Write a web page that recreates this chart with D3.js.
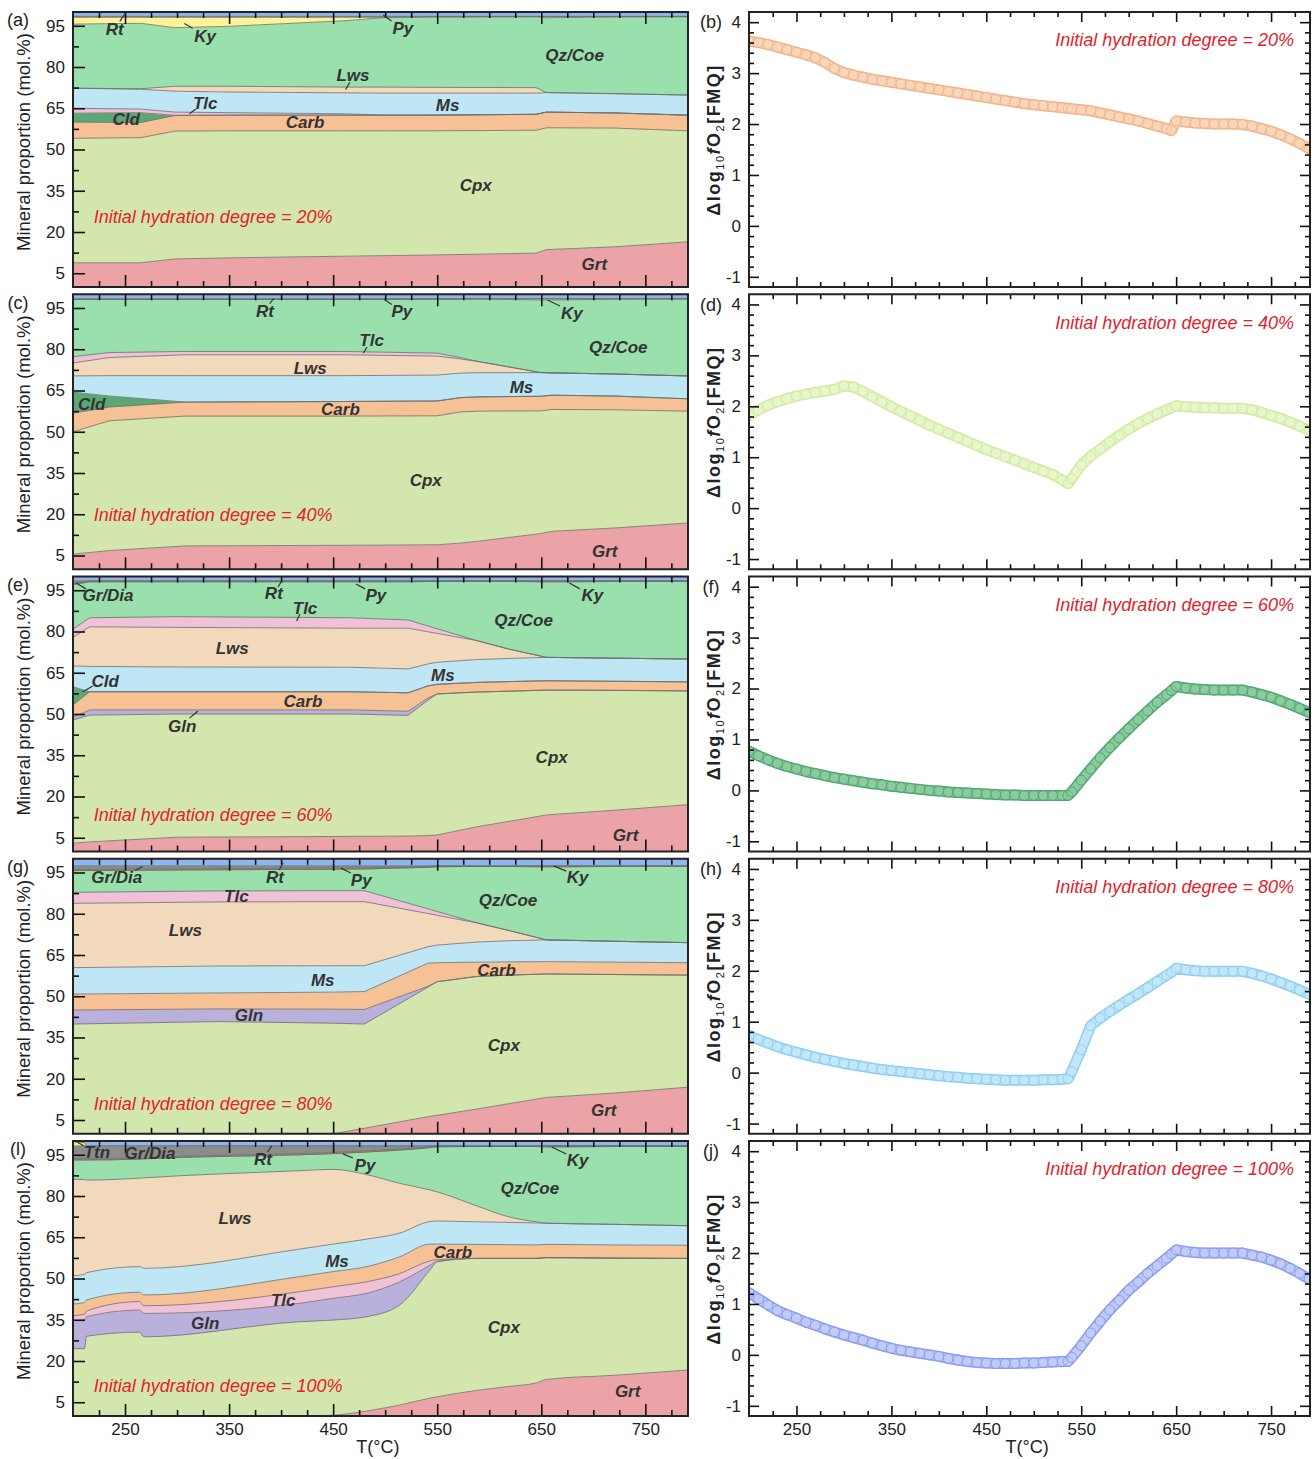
<!DOCTYPE html>
<html>
<head>
<meta charset="utf-8">
<script src="https://cdn.jsdelivr.net/npm/d3@7"></script>
<style>
  body { margin: 0; background: #fff; }
  svg { display: block; }
</style>
</head>
<body>
<svg id="fig" width="1315" height="1459"></svg>
<script>
// ---------- Mineral proportions (mol.%) along the heating path ----------
// Initial hydration degree = 20 %
const T_20    = [200, 265, 298, 350, 460, 500, 540, 645, 655, 720, 790];
const Grt_20  = [8.8, 8.8, 10.2, 10.6, 11.2, 11.4, 11.6, 12.3, 13.6, 14.6, 16.4];
const Cpx_20  = [45.3, 45.5, 46.5, 46.2, 45.6, 45.4, 45.2, 44.7, 44.3, 43.2, 40.4];
const Carb_20 = [5.9, 5.5, 5.7, 5.7, 5.7, 5.7, 5.7, 5.8, 5.7, 5.5, 5.7];
const Cld_20  = [3.2, 3.6, 0, 0, 0, 0, 0, 0, 0, 0, 0];
const Tlc_20  = [1.8, 1.3, 1.2, 0.9, 0.5, 0, 0, 0, 0, 0, 0];
const Ms_20   = [7.3, 7.2, 7.6, 7.5, 7.6, 8.0, 8.0, 7.7, 7.1, 7.0, 7.3];
const Lws_20  = [0, 0.2, 1.8, 2.1, 2.1, 2.2, 2.1, 2.0, 0, 0, 0];
const Qz_20   = [23.3, 23.8, 21.3, 21.8, 24.1, 25.3, 25.6, 25.8, 27.2, 27.9, 28.5];
const Ky_20   = [2.5, 2.2, 3.8, 3.3, 1.3, 0.1, 0, 0, 0.4, 0.1, 0];
const Py_20   = [0.3, 0.3, 0.3, 0.3, 0.3, 0.3, 0.2, 0.1, 0.1, 0.1, 0.1];
const Rt_20   = [1.6, 1.6, 1.6, 1.6, 1.6, 1.6, 1.6, 1.6, 1.6, 1.6, 1.6];

// Initial hydration degree = 40 %
const T_40    = [200, 235, 308, 460, 550, 572, 590, 650, 660, 720, 790];
const Grt_40  = [5.5, 6.8, 8.5, 8.7, 8.9, 9.5, 10.2, 13.0, 13.8, 15.0, 16.8];
const Cpx_40  = [44.5, 47.2, 47.2, 47.0, 46.9, 47.7, 47.3, 44.6, 44.3, 43.0, 40.7];
const Carb_40 = [6.8, 5.0, 5.1, 5.3, 5.4, 5.2, 5.2, 5.3, 5.2, 5.0, 4.5];
const Cld_40  = [7.6, 4.0, 0, 0, 0, 0, 0, 0, 0, 0, 0];
const Ms_40   = [5.9, 7.4, 9.6, 9.4, 9.4, 8.9, 8.8, 8.6, 8.1, 8.0, 8.3];
const Lws_40  = [4.7, 6.6, 7.6, 7.6, 6.9, 5.2, 4.0, 0, 0, 0, 0];
const Tlc_40  = [2.3, 1.8, 1.2, 1.2, 1.1, 0.5, 0, 0, 0, 0, 0];
const Qz_40   = [20.8, 19.3, 18.9, 18.9, 19.6, 21.2, 22.8, 26.4, 26.5, 27.2, 28.0];
const Ky_40   = [0, 0, 0, 0, 0, 0, 0, 0.4, 0.4, 0.1, 0];
const Py_40   = [0.3, 0.3, 0.3, 0.3, 0.2, 0.2, 0.1, 0.1, 0.1, 0.1, 0.1];
const Rt_40   = [1.6, 1.6, 1.6, 1.6, 1.6, 1.6, 1.6, 1.6, 1.6, 1.6, 1.6];

// Initial hydration degree = 60 %
const T_60     = [200, 216, 300, 466, 522, 541, 550, 588, 620, 655, 720, 790];
const Grt_60   = [3.0, 3.5, 5.2, 5.5, 5.6, 5.8, 6.0, 9.0, 11.0, 13.3, 15.0, 17.0];
const Cpx_60   = [44.8, 46.1, 44.8, 44.5, 43.9, 49.2, 51.3, 49.0, 47.3, 45.4, 43.6, 41.4];
const Gln_60   = [1.0, 1.9, 1.5, 1.5, 1.5, 0.8, 0, 0, 0, 0, 0, 0];
const Carb_60  = [4.5, 6.6, 6.6, 6.6, 6.7, 4.4, 3.5, 3.5, 3.5, 3.4, 3.3, 3.3];
const Cld_60   = [6.6, 0, 0, 0, 0, 0, 0, 0, 0, 0, 0, 0];
const Ms_60    = [7.6, 9.2, 9.0, 8.9, 8.7, 8.0, 8.0, 8.3, 8.4, 8.5, 8.4, 8.3];
const Lws_60   = [10.4, 14.4, 14.4, 14.2, 14.8, 11.7, 10.5, 6.9, 3.3, 0, 0, 0];
const Tlc_60   = [3.0, 3.3, 3.9, 3.8, 3.0, 2.1, 1.7, 0, 0, 0, 0, 0];
const Qz_60    = [16.2, 13.1, 12.7, 13.1, 13.9, 16.2, 17.2, 21.6, 24.8, 27.3, 27.9, 28.3];
const Ky_60    = [0, 0, 0, 0, 0, 0, 0, 0, 0, 0.4, 0.1, 0];
const Py_60    = [0.3, 0.3, 0.3, 0.3, 0.3, 0.2, 0.2, 0.1, 0.1, 0.1, 0.1, 0.1];
const GrDia_60 = [1.0, 0, 0, 0, 0, 0, 0, 0, 0, 0, 0, 0];
const Rt_60    = [1.6, 1.6, 1.6, 1.6, 1.6, 1.6, 1.6, 1.6, 1.6, 1.6, 1.6, 1.6];

// Initial hydration degree = 80 %
const T_80     = [200, 340, 450, 480, 541, 550, 588, 620, 655, 720, 790];
const Grt_80   = [0, 0, 0, 2.0, 6.2, 6.7, 9.0, 11.0, 13.2, 14.8, 16.9];
const Cpx_80   = [39.9, 40.8, 40.2, 37.9, 47.1, 48.6, 48.2, 46.7, 44.9, 43.1, 40.8];
const Gln_80   = [5.1, 4.6, 5.1, 5.3, 0.3, 0, 0, 0, 0, 0, 0];
const Carb_80  = [5.8, 5.8, 6.2, 6.5, 8.4, 6.9, 5.2, 4.8, 4.5, 4.5, 4.5];
const Ms_80    = [9.6, 9.8, 9.6, 9.4, 6.0, 6.4, 7.3, 7.7, 7.9, 7.6, 7.3];
const Lws_80   = [23.4, 23.3, 23.3, 23.3, 12.1, 10.8, 7.0, 3.6, 0, 0, 0];
const Tlc_80   = [4.0, 4.0, 4.0, 4.0, 1.7, 1.4, 0, 0, 0, 0, 0];
const Qz_80    = [7.9, 7.7, 7.8, 7.9, 15.1, 16.3, 20.5, 23.4, 26.4, 27.2, 27.8];
const Ky_80    = [0, 0, 0, 0, 0, 0, 0, 0, 0.4, 0.1, 0];
const Py_80    = [0.4, 0.4, 0.4, 0.4, 0.3, 0.3, 0.2, 0.2, 0.1, 0.1, 0.1];
const GrDia_80 = [1.3, 1.0, 0.8, 0.7, 0.2, 0, 0, 0, 0, 0, 0];
const Rt_80    = [2.6, 2.6, 2.6, 2.6, 2.6, 2.6, 2.6, 2.6, 2.6, 2.6, 2.6];

// Initial hydration degree = 100 %
const T_100     = [200, 211, 213, 264, 268, 418, 450, 482, 514, 543, 550, 588, 620, 645, 655, 720, 790];
const Grt_100   = [0, 0, 0, 0, 0, 0, 0.3, 1.8, 4.0, 6.5, 7.0, 9.3, 10.8, 12.0, 13.3, 14.8, 16.7];
const Cpx_100   = [24.5, 24.5, 29.0, 30.5, 28.8, 34.3, 34.6, 34.3, 36.4, 46.6, 49.1, 48.0, 46.5, 45.3, 44.3, 42.6, 40.6];
const Gln_100   = [10.2, 10.5, 7.1, 8.0, 8.5, 6.7, 7.9, 8.5, 8.4, 1.7, 0.2, 0, 0, 0, 0, 0, 0];
const Tlc_100   = [1.8, 2.0, 2.1, 3.1, 2.8, 4.2, 4.2, 4.2, 3.0, 1.6, 0.6, 0, 0, 0, 0, 0, 0];
const Carb_100  = [4.2, 4.3, 4.0, 3.4, 3.9, 5.5, 5.5, 5.5, 6.1, 6.1, 5.6, 5.1, 5.0, 4.9, 4.8, 4.8, 4.8];
const Ms_100    = [10.3, 10.2, 9.9, 9.3, 9.7, 10.0, 10.0, 10.0, 8.6, 8.2, 8.4, 8.2, 8.1, 8.0, 7.7, 7.5, 7.1];
const Lws_100   = [35.1, 34.5, 33.7, 32.2, 32.9, 28.5, 27.2, 23.5, 18.1, 11.5, 10.6, 5.8, 1.9, 0.4, 0, 0, 0];
const Qz_100    = [7.0, 7.1, 7.3, 6.9, 6.9, 5.8, 5.7, 8.2, 12.1, 15.4, 16.4, 21.6, 25.7, 27.4, 27.6, 28.3, 28.9];
const Ky_100    = [0, 0, 0, 0, 0, 0, 0, 0, 0, 0, 0, 0, 0, 0, 0.4, 0.1, 0];
const Py_100    = [0.4, 0.4, 0.4, 0.4, 0.4, 0.4, 0.4, 0.4, 0.4, 0.3, 0.3, 0.2, 0.2, 0.2, 0.1, 0.1, 0.1];
const GrDia_100 = [4.7, 4.7, 4.7, 4.4, 4.3, 2.8, 2.4, 1.8, 1.1, 0.3, 0, 0, 0, 0, 0, 0, 0];
const Ttn_100   = [1.5, 1.2, 0, 0, 0, 0, 0, 0, 0, 0, 0, 0, 0, 0, 0, 0, 0];
const Rt_100    = [0.3, 0.6, 1.8, 1.8, 1.8, 1.8, 1.8, 1.8, 1.8, 1.8, 1.8, 1.8, 1.8, 1.8, 1.8, 1.8, 1.8];

// ---------- Oxygen fugacity relative to FMQ ----------
const T_fo2 = [200, 210, 220, 230, 240, 250, 260, 270, 280, 290, 300, 310, 320, 330, 340, 350, 360, 370, 380, 390,
               400, 410, 420, 430, 440, 450, 460, 470, 480, 490, 500, 510, 520, 530, 536, 540, 550, 560, 570, 580,
               590, 600, 610, 620, 630, 640, 645, 650, 660, 670, 680, 690, 700, 710, 720, 730, 740, 750, 760, 770, 780, 790];
const fo2_20 = [3.63, 3.60, 3.56, 3.51, 3.46, 3.41, 3.36, 3.30, 3.21, 3.09, 3.01, 2.96, 2.92, 2.88, 2.85, 2.82, 2.79, 2.76, 2.73, 2.70,
                2.67, 2.64, 2.61, 2.58, 2.55, 2.52, 2.49, 2.46, 2.43, 2.40, 2.38, 2.36, 2.34, 2.32, 2.31, 2.30, 2.28, 2.26, 2.22, 2.18,
                2.14, 2.10, 2.06, 2.01, 1.96, 1.91, 1.87, 2.06, 2.04, 2.02, 2.01, 2.00, 2.00, 2.00, 1.99, 1.96, 1.91, 1.86, 1.79, 1.71, 1.62, 1.52];
const fo2_40 = [1.82, 1.93, 2.02, 2.09, 2.15, 2.20, 2.24, 2.27, 2.30, 2.33, 2.40, 2.38, 2.29, 2.19, 2.09, 1.99, 1.90, 1.81, 1.72, 1.63,
                1.55, 1.47, 1.39, 1.31, 1.23, 1.15, 1.08, 1.01, 0.94, 0.87, 0.80, 0.73, 0.66, 0.55, 0.48, 0.58, 0.85, 1.02, 1.16, 1.30,
                1.43, 1.55, 1.66, 1.76, 1.85, 1.93, 1.97, 2.01, 1.99, 1.98, 1.97, 1.97, 1.96, 1.96, 1.96, 1.93, 1.88, 1.82, 1.76, 1.69, 1.61, 1.53];
const fo2_60 = [0.77, 0.68, 0.60, 0.53, 0.47, 0.42, 0.37, 0.33, 0.29, 0.25, 0.22, 0.19, 0.16, 0.13, 0.11, 0.08, 0.06, 0.04, 0.02, 0.00,
                -0.01, -0.03, -0.04, -0.05, -0.06, -0.07, -0.08, -0.09, -0.09, -0.10, -0.10, -0.10, -0.10, -0.10, -0.10, -0.03, 0.20, 0.42, 0.64, 0.84,
                1.03, 1.21, 1.39, 1.56, 1.73, 1.88, 1.96, 2.04, 2.01, 1.99, 1.98, 1.97, 1.97, 1.97, 1.97, 1.93, 1.88, 1.83, 1.76, 1.69, 1.61, 1.53];
const fo2_80 = [0.73, 0.65, 0.58, 0.51, 0.45, 0.40, 0.35, 0.30, 0.26, 0.22, 0.18, 0.15, 0.12, 0.09, 0.06, 0.04, 0.02, 0.00, -0.02, -0.04,
                -0.06, -0.08, -0.09, -0.11, -0.12, -0.13, -0.14, -0.15, -0.15, -0.15, -0.15, -0.14, -0.14, -0.13, -0.12, 0.02, 0.45, 0.92, 1.07, 1.20,
                1.32, 1.44, 1.55, 1.67, 1.79, 1.91, 1.97, 2.05, 2.02, 2.00, 1.99, 1.99, 1.99, 1.99, 1.99, 1.95, 1.90, 1.84, 1.77, 1.70, 1.62, 1.54];
const fo2_100 = [1.22, 1.10, 0.98, 0.87, 0.79, 0.72, 0.64, 0.58, 0.51, 0.45, 0.39, 0.34, 0.29, 0.23, 0.18, 0.13, 0.09, 0.06, 0.03, 0.00,
                 -0.03, -0.07, -0.10, -0.13, -0.15, -0.16, -0.17, -0.17, -0.17, -0.16, -0.16, -0.15, -0.14, -0.13, -0.13, -0.05, 0.18, 0.43, 0.66, 0.88,
                 1.07, 1.27, 1.43, 1.60, 1.75, 1.90, 1.98, 2.06, 2.03, 2.01, 2.00, 2.00, 2.00, 2.00, 2.00, 1.96, 1.92, 1.86, 1.79, 1.70, 1.60, 1.49];

// ---------- Axis ticks ----------
const TEMP_TICKS  = [250, 350, 450, 550, 650, 750];
const TEMP_MINOR  = [225, 275, 300, 325, 375, 400, 425, 475, 500, 525, 575, 600, 625, 675, 700, 725, 775];
const PROP_TICKS  = [5, 20, 35, 50, 65, 80, 95];
const PROP_MINOR  = [12.5, 27.5, 42.5, 57.5, 72.5, 87.5];
const FO2_TICKS   = [-1, 0, 1, 2, 3, 4];
const FO2_MINOR   = d3.range(-5, 21).map(i => i / 5).filter(v => !Number.isInteger(v));
const DEGREES     = ['20%', '40%', '60%', '80%', '100%'];

// ---------- Layout & style ----------
const FONT = '"Liberation Sans", Arial, Helvetica, sans-serif';
const T_DOMAIN = [200, 791];
const PANEL_H = 275, ROW_STEP = 282.25, TOP0 = 12;
const LX0 = 73, LX1 = 688, RX0 = 749, RX1 = 1310;
const RED = '#e4212b';
const T_TITLE_AT = 493;   // temperature under which the "T(°C)" title is centred

const mineralColor = {
  Grt: '#eba3a7', Cpx: '#d3e6ad', Gln: '#b9b1db', Carb: '#f6c195', Cld: '#5ba875',
  Tlc: '#efc2d8', Ms: '#bee6f5', Lws: '#f3d9bc', Qz: '#99e0ad', Ky: '#fdf39b',
  Py: '#c8b64a', GrDia: '#8c8c8c', Ttn: '#efe88a', Rt: '#90b5ee'
};

const fo2Style = [
  { edge: '#f1b487', fill: '#f9d6ba' },
  { edge: '#d2eba0', fill: '#e8f6cc' },
  { edge: '#4fa871', fill: '#8bcb9e' },
  { edge: '#8ccff3', fill: '#c3e7f9' },
  { edge: '#8a9cf2', fill: '#c1cbf8' }
];

// Text annotations for each stacked panel (T in °C, proportion in mol.%)
const labels_20 = [
  { t: 'Rt', x: 240, y: 93.8, p: [245, 96.6, 250, 99.4] },
  { t: 'Ky', x: 327, y: 91.3, p: [315, 94.1, 307, 95.8] },
  { t: 'Py', x: 517, y: 94.2, p: [506, 96.7, 498, 98.9] },
  { t: 'Qz/Coe', x: 682, y: 84.4 },
  { t: 'Lws', x: 469, y: 77.1, p: [466, 74.4, 462, 71.8] },
  { t: 'Tlc', x: 327, y: 66.9, p: [318, 64.7, 312, 63.0] },
  { t: 'Ms', x: 560, y: 66.2 },
  { t: 'Cld', x: 251, y: 61.1 },
  { t: 'Carb', x: 423, y: 60.0 },
  { t: 'Cpx', x: 587, y: 37.1 },
  { t: 'Grt', x: 701, y: 8.4 }
];
const labels_40 = [
  { t: 'Rt', x: 384.5, y: 93.9, p: [389, 96.6, 393, 98.5] },
  { t: 'Py', x: 516, y: 93.9, p: [506.5, 96.3, 499, 98.1] },
  { t: 'Ky', x: 679.5, y: 93.2, p: [668, 95.7, 656, 97.9] },
  { t: 'Qz/Coe', x: 724, y: 80.8 },
  { t: 'Tlc', x: 487, y: 83.4, p: [482.5, 80.8, 479, 78.6] },
  { t: 'Lws', x: 428, y: 73.2 },
  { t: 'Ms', x: 631, y: 66.3 },
  { t: 'Cld', x: 218, y: 60.1 },
  { t: 'Carb', x: 457, y: 58.3 },
  { t: 'Cpx', x: 539, y: 32.5 },
  { t: 'Grt', x: 711, y: 6.7 }
];
const labels_60 = [
  { t: 'Gr/Dia', x: 233.6, y: 93.3, p: [212.5, 95.5, 203, 97.6] },
  { t: 'Rt', x: 393, y: 94.0, p: [397, 96.2, 401, 98.7] },
  { t: 'Tlc', x: 423, y: 88.5, p: [418, 86.4, 415, 83.8] },
  { t: 'Py', x: 491, y: 93.3, p: [480.6, 95.5, 472, 97.3] },
  { t: 'Ky', x: 699, y: 93.3, p: [687, 95.5, 677, 97.6] },
  { t: 'Qz/Coe', x: 633, y: 84.2 },
  { t: 'Lws', x: 353, y: 74.0 },
  { t: 'Ms', x: 555.5, y: 64.2 },
  { t: 'Cld', x: 231, y: 62.0, p: [219, 60.2, 209, 58.0] },
  { t: 'Carb', x: 421, y: 54.7 },
  { t: 'Gln', x: 305, y: 45.6, p: [312, 48.5, 320, 51.1] },
  { t: 'Cpx', x: 660, y: 34.4 },
  { t: 'Grt', x: 731, y: 6.0 }
];
const labels_80 = [
  { t: 'Gr/Dia', x: 242, y: 93.4, p: [259.6, 95.7, 267, 97.2] },
  { t: 'Rt', x: 394, y: 93.4, p: [398, 95.9, 402, 98.5] },
  { t: 'Py', x: 477, y: 92.3, p: [467, 94.8, 457.5, 96.6] },
  { t: 'Ky', x: 685, y: 93.4, p: [674, 95.5, 662, 97.4] },
  { t: 'Tlc', x: 357, y: 86.5 },
  { t: 'Qz/Coe', x: 618, y: 85.0 },
  { t: 'Lws', x: 308, y: 74.1 },
  { t: 'Ms', x: 440, y: 55.9 },
  { t: 'Carb', x: 607, y: 59.5 },
  { t: 'Gln', x: 369, y: 43.2 },
  { t: 'Cpx', x: 614, y: 32.3 },
  { t: 'Grt', x: 710, y: 8.6 }
];
const labels_100 = [
  { t: 'Ttn', x: 223, y: 96.0, p: [210.6, 98.2, 204, 99.6] },
  { t: 'Gr/Dia', x: 274, y: 95.6 },
  { t: 'Rt', x: 382.6, y: 93.5, p: [387, 96.0, 391, 98.2] },
  { t: 'Py', x: 480.6, y: 91.3, p: [469, 93.8, 459.4, 95.3] },
  { t: 'Ky', x: 685, y: 93.1, p: [674, 95.3, 660, 97.8] },
  { t: 'Qz/Coe', x: 639, y: 82.9 },
  { t: 'Lws', x: 355.7, y: 72.0 },
  { t: 'Ms', x: 453.7, y: 56.4 },
  { t: 'Carb', x: 565, y: 59.6 },
  { t: 'Tlc', x: 402, y: 42.2 },
  { t: 'Gln', x: 327, y: 33.8 },
  { t: 'Cpx', x: 614, y: 32.4 },
  { t: 'Grt', x: 733, y: 9.1 }
];

// Panel definitions built from the arrays above (stacking order = bottom to top)
const leftPanels = [
  { letter: '(a)', T: T_20, hyd: 25.5, labels: labels_20, smooth: false,
    order: ['Grt', 'Cpx', 'Carb', 'Cld', 'Tlc', 'Ms', 'Lws', 'Qz', 'Ky', 'Py', 'Rt'],
    values: { Grt: Grt_20, Cpx: Cpx_20, Carb: Carb_20, Cld: Cld_20, Tlc: Tlc_20, Ms: Ms_20, Lws: Lws_20, Qz: Qz_20, Ky: Ky_20, Py: Py_20, Rt: Rt_20 } },
  { letter: '(c)', T: T_40, hyd: 19.7, labels: labels_40, smooth: false,
    order: ['Grt', 'Cpx', 'Carb', 'Cld', 'Ms', 'Lws', 'Tlc', 'Qz', 'Ky', 'Py', 'Rt'],
    values: { Grt: Grt_40, Cpx: Cpx_40, Carb: Carb_40, Cld: Cld_40, Ms: Ms_40, Lws: Lws_40, Tlc: Tlc_40, Qz: Qz_40, Ky: Ky_40, Py: Py_40, Rt: Rt_40 } },
  { letter: '(e)', T: T_60, hyd: 13.3, labels: labels_60, smooth: false,
    order: ['Grt', 'Cpx', 'Gln', 'Carb', 'Cld', 'Ms', 'Lws', 'Tlc', 'Qz', 'Ky', 'Py', 'GrDia', 'Rt'],
    values: { Grt: Grt_60, Cpx: Cpx_60, Gln: Gln_60, Carb: Carb_60, Cld: Cld_60, Ms: Ms_60, Lws: Lws_60, Tlc: Tlc_60, Qz: Qz_60, Ky: Ky_60, Py: Py_60, GrDia: GrDia_60, Rt: Rt_60 } },
  { letter: '(g)', T: T_80, hyd: 10.8, labels: labels_80, smooth: false,
    order: ['Grt', 'Cpx', 'Gln', 'Carb', 'Ms', 'Lws', 'Tlc', 'Qz', 'Ky', 'Py', 'GrDia', 'Rt'],
    values: { Grt: Grt_80, Cpx: Cpx_80, Gln: Gln_80, Carb: Carb_80, Ms: Ms_80, Lws: Lws_80, Tlc: Tlc_80, Qz: Qz_80, Ky: Ky_80, Py: Py_80, GrDia: GrDia_80, Rt: Rt_80 } },
  { letter: '(l)', T: T_100, hyd: 10.9, labels: labels_100, smooth: true,
    order: ['Grt', 'Cpx', 'Gln', 'Tlc', 'Carb', 'Ms', 'Lws', 'Qz', 'Ky', 'Py', 'GrDia', 'Ttn', 'Rt'],
    values: { Grt: Grt_100, Cpx: Cpx_100, Gln: Gln_100, Tlc: Tlc_100, Carb: Carb_100, Ms: Ms_100, Lws: Lws_100, Qz: Qz_100, Ky: Ky_100, Py: Py_100, GrDia: GrDia_100, Ttn: Ttn_100, Rt: Rt_100 } }
];
const rightPanels = [
  { letter: '(b)', values: fo2_20 },
  { letter: '(d)', values: fo2_40 },
  { letter: '(f)', values: fo2_60 },
  { letter: '(h)', values: fo2_80 },
  { letter: '(j)', values: fo2_100 }
];

const svg = d3.select('#fig');
const defs = svg.append('defs');
const rowTop = r => TOP0 + ROW_STEP * r;
const intFmt = d => String(d);

function styleAxis(sel) {
  sel.selectAll('.domain').remove();
  sel.selectAll('.tick line').attr('stroke', '#111').attr('stroke-width', 1.6);
  sel.selectAll('.tick text').attr('font-family', FONT).attr('font-size', 17).attr('fill', '#222');
}

function hydrationText(g, x, y, anchor, degree) {
  g.append('text')
    .attr('x', x).attr('y', y).attr('dy', '0.35em')
    .attr('text-anchor', anchor)
    .attr('font-family', FONT).attr('font-size', 18).attr('font-style', 'italic')
    .attr('fill', RED)
    .text(`Initial hydration degree = ${degree}`);
}

function drawLeft(r, p) {
  const top = rowTop(r), bot = top + PANEL_H, last = r === 4;
  const x = d3.scaleLinear().domain(T_DOMAIN).range([LX0, LX1]);
  const y = d3.scaleLinear().domain([0, 100]).range([bot, top]);
  const curve = p.smooth ? d3.curveMonotoneX : d3.curveLinear;
  const g = svg.append('g');
  const cid = 'clipL' + r;
  defs.append('clipPath').attr('id', cid).append('rect')
    .attr('x', LX0).attr('y', top).attr('width', LX1 - LX0).attr('height', PANEL_H);

  const rows = p.T.map((t, i) => {
    const o = { T: t };
    p.order.forEach(k => { o[k] = p.values[k][i]; });
    return o;
  });
  const series = d3.stack().keys(p.order)(rows);
  const area = d3.area().curve(curve).x(d => x(d.data.T)).y0(d => y(d[0])).y1(d => y(d[1]));
  const edge = d3.line().curve(curve).x(d => x(d.data.T)).y(d => y(d[1]));

  const layers = g.append('g').attr('clip-path', `url(#${cid})`);
  layers.selectAll('path.area').data(series).join('path')
    .attr('class', 'area')
    .attr('d', area)
    .attr('fill', s => mineralColor[s.key])
    .attr('stroke', s => mineralColor[s.key])
    .attr('stroke-width', 0.4);
  layers.selectAll('path.edge').data(series.slice(0, -1)).join('path')
    .attr('class', 'edge')
    .attr('d', edge)
    .attr('fill', 'none')
    .attr('stroke', '#6f6f6f')
    .attr('stroke-width', 0.8);

  // axes (ticks point inward)
  const ax = g.append('g');
  ax.append('g').attr('transform', `translate(${LX0},0)`)
    .call(d3.axisLeft(y).tickValues(PROP_TICKS).tickSize(-12).tickPadding(8).tickFormat(intFmt));
  ax.append('g').attr('transform', `translate(${LX0},0)`)
    .call(d3.axisLeft(y).tickValues(PROP_MINOR).tickSize(-6).tickFormat(''));
  ax.append('g').attr('transform', `translate(0,${bot})`)
    .call(d3.axisBottom(x).tickValues(TEMP_TICKS).tickSize(-12).tickPadding(7).tickFormat(last ? intFmt : ''));
  ax.append('g').attr('transform', `translate(0,${bot})`)
    .call(d3.axisBottom(x).tickValues(TEMP_MINOR).tickSize(-6).tickFormat(''));
  ax.append('g').attr('transform', `translate(0,${top})`)
    .call(d3.axisTop(x).tickValues(TEMP_TICKS).tickSize(-12).tickFormat(''));
  ax.append('g').attr('transform', `translate(0,${top})`)
    .call(d3.axisTop(x).tickValues(TEMP_MINOR).tickSize(-6).tickFormat(''));
  styleAxis(ax);

  g.append('rect').attr('x', LX0).attr('y', top).attr('width', LX1 - LX0).attr('height', PANEL_H)
    .attr('fill', 'none').attr('stroke', '#222').attr('stroke-width', 2);

  // mineral labels
  p.labels.forEach(l => {
    if (l.p) {
      g.append('line')
        .attr('x1', x(l.p[0])).attr('y1', y(l.p[1]))
        .attr('x2', x(l.p[2])).attr('y2', y(l.p[3]))
        .attr('stroke', '#333').attr('stroke-width', 1.2);
    }
    g.append('text')
      .attr('x', x(l.x)).attr('y', y(l.y)).attr('dy', '0.35em')
      .attr('text-anchor', 'middle')
      .attr('font-family', FONT).attr('font-size', 17)
      .attr('font-weight', 'bold').attr('font-style', 'italic')
      .attr('fill', '#333')
      .text(l.t);
  });

  hydrationText(g, x(220), y(p.hyd), 'start', DEGREES[r]);

  g.append('text').attr('x', 18).attr('y', top + 8).attr('dy', '0.35em')
    .attr('text-anchor', 'middle').attr('font-family', FONT).attr('font-size', 18).attr('fill', '#222')
    .text(p.letter);
  g.append('text')
    .attr('transform', `translate(24,${top + 130}) rotate(-90)`)
    .attr('dy', '0.35em').attr('text-anchor', 'middle')
    .attr('font-family', FONT).attr('font-size', 18.5).attr('fill', '#222')
    .text('Mineral proportion (mol.%)');
  if (last) {
    g.append('text').attr('x', x(T_TITLE_AT)).attr('y', bot + 31).attr('dy', '0.35em')
      .attr('text-anchor', 'middle').attr('font-family', FONT).attr('font-size', 18).attr('fill', '#222')
      .text('T(°C)');
  }
}

function drawRight(r, p) {
  const top = rowTop(r), bot = top + PANEL_H, last = r === 4;
  const x = d3.scaleLinear().domain(T_DOMAIN).range([RX0, RX1]);
  const y = d3.scaleLinear().domain([-1.2, 4.2]).range([bot, top]);
  const st = fo2Style[r];
  const g = svg.append('g');
  const cid = 'clipR' + r;
  defs.append('clipPath').attr('id', cid).append('rect')
    .attr('x', RX0).attr('y', top).attr('width', RX1 - RX0).attr('height', PANEL_H);

  const pts = T_fo2.map((t, i) => ({ T: t, v: p.values[i] }));
  const line = d3.line().x(d => x(d.T)).y(d => y(d.v));
  const plot = g.append('g').attr('clip-path', `url(#${cid})`);
  plot.append('path').attr('d', line(pts))
    .attr('fill', 'none').attr('stroke', st.edge).attr('stroke-width', 11)
    .attr('stroke-linejoin', 'round').attr('stroke-linecap', 'round');
  plot.append('path').attr('d', line(pts))
    .attr('fill', 'none').attr('stroke', st.fill).attr('stroke-width', 8)
    .attr('stroke-linejoin', 'round').attr('stroke-linecap', 'round');
  plot.selectAll('circle').data(pts).join('circle')
    .attr('cx', d => x(d.T)).attr('cy', d => y(d.v)).attr('r', 5)
    .attr('fill', st.fill).attr('fill-opacity', 0.5)
    .attr('stroke', st.edge).attr('stroke-width', 1);

  const ax = g.append('g');
  ax.append('g').attr('transform', `translate(${RX0},0)`)
    .call(d3.axisLeft(y).tickValues(FO2_TICKS).tickSize(-10).tickPadding(8).tickFormat(intFmt));
  ax.append('g').attr('transform', `translate(${RX0},0)`)
    .call(d3.axisLeft(y).tickValues(FO2_MINOR).tickSize(-5).tickFormat(''));
  ax.append('g').attr('transform', `translate(${RX1},0)`)
    .call(d3.axisRight(y).tickValues(FO2_TICKS).tickSize(-10).tickFormat(''));
  ax.append('g').attr('transform', `translate(${RX1},0)`)
    .call(d3.axisRight(y).tickValues(FO2_MINOR).tickSize(-5).tickFormat(''));
  ax.append('g').attr('transform', `translate(0,${bot})`)
    .call(d3.axisBottom(x).tickValues(TEMP_TICKS).tickSize(-10).tickPadding(7).tickFormat(last ? intFmt : ''));
  ax.append('g').attr('transform', `translate(0,${bot})`)
    .call(d3.axisBottom(x).tickValues(TEMP_MINOR).tickSize(-5).tickFormat(''));
  ax.append('g').attr('transform', `translate(0,${top})`)
    .call(d3.axisTop(x).tickValues(TEMP_TICKS).tickSize(-10).tickFormat(''));
  ax.append('g').attr('transform', `translate(0,${top})`)
    .call(d3.axisTop(x).tickValues(TEMP_MINOR).tickSize(-5).tickFormat(''));
  styleAxis(ax);

  g.append('rect').attr('x', RX0).attr('y', top).attr('width', RX1 - RX0).attr('height', PANEL_H)
    .attr('fill', 'none').attr('stroke', '#222').attr('stroke-width', 2);

  hydrationText(g, 1294, top + 28, 'end', DEGREES[r]);

  g.append('text').attr('x', 711).attr('y', top + 10).attr('dy', '0.35em')
    .attr('text-anchor', 'middle').attr('font-family', FONT).attr('font-size', 18).attr('fill', '#222')
    .text(p.letter);

  const yt = g.append('text')
    .attr('transform', `translate(714,${top + 128}) rotate(-90)`)
    .attr('dy', '0.35em').attr('text-anchor', 'middle')
    .attr('font-family', FONT).attr('font-size', 18).attr('font-weight', 'bold')
    .attr('letter-spacing', 1.5).attr('fill', '#222');
  yt.append('tspan').text('Δlog');
  yt.append('tspan').attr('font-size', 11).attr('font-weight', 'normal').attr('dy', 4).text('10');
  yt.append('tspan').attr('font-style', 'italic').attr('dy', -4).text('f');
  yt.append('tspan').text('O');
  yt.append('tspan').attr('font-size', 11).attr('font-weight', 'normal').attr('dy', 4).text('2');
  yt.append('tspan').attr('dy', -4).text('[FMQ]');

  if (last) {
    g.append('text').attr('x', x(T_TITLE_AT)).attr('y', bot + 31).attr('dy', '0.35em')
      .attr('text-anchor', 'middle').attr('font-family', FONT).attr('font-size', 18).attr('fill', '#222')
      .text('T(°C)');
  }
}

leftPanels.forEach((p, r) => drawLeft(r, p));
rightPanels.forEach((p, r) => drawRight(r, p));
</script>
</body>
</html>
